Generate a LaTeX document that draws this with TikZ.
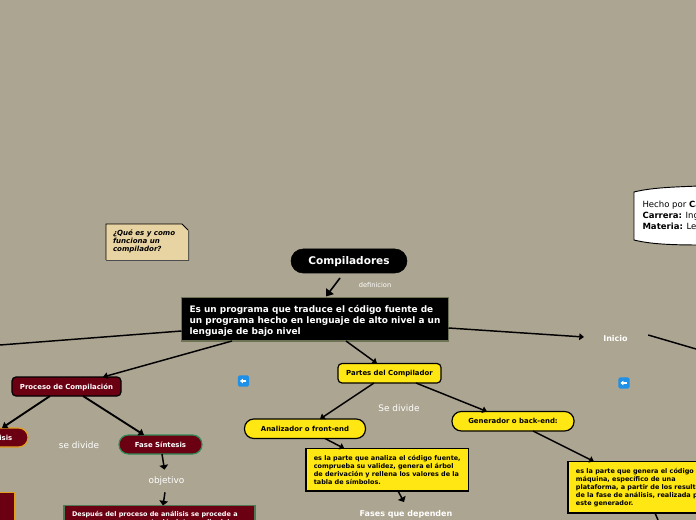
\documentclass[tikz,border=0pt]{standalone}
\usepackage{fontspec}
\setmainfont{DejaVu Sans}
\usetikzlibrary{arrows.meta}
\definecolor{bg}{HTML}{ACA591}
\definecolor{ylw}{HTML}{FFE713}
\definecolor{wine}{HTML}{6B0013}
\definecolor{sand}{HTML}{E8D3A3}
\definecolor{olive}{HTML}{6E7355}
\definecolor{grn}{HTML}{2E8B57}
\definecolor{grn2}{HTML}{4F7A55}
\definecolor{org}{HTML}{E0A020}
\definecolor{iconb}{HTML}{1E90E8}
\newcommand{\sz}[2]{\fontsize{#1}{#2}\selectfont}
\tikzset{
 x=0.75pt,y=-0.75pt,
 conn/.style={line width=1.1pt,-{Triangle[width=5pt,length=3.5pt]}},
 strongconn/.style={line width=1.4pt,-{Triangle[width=5.5pt,length=4pt]}},
 shortconn/.style={line width=1.1pt,-{Triangle[width=6.5pt,length=3.5pt]}},
 bigconn/.style={line width=1.2pt,-{Triangle[width=7pt,length=5pt]}},
 plain/.style={line width=1.1pt},
 wh/.style 2 args={minimum width=#1*.75pt,minimum height=#2*.75pt,inner sep=0pt,outer sep=0pt},
 pillbox/.style={draw=black,line width=.9pt,rounded corners=7pt,font=\bfseries\sz{5.2}{6},text height=5pt,text depth=1.2pt},
 ypill/.style={pillbox,fill=ylw,text=black},
 wpill/.style={pillbox,fill=wine,text=white},
 para/.style={draw=black,fill=ylw,line width=.9pt,align=left,font=\bfseries\sz{4.85}{6},text=black},
 lab/.style={inner sep=0pt,outer sep=0pt,text=white,align=center},
 icon/.style={fill=iconb,rounded corners=1.2pt,minimum size=8.5pt,inner sep=0pt,outer sep=0pt},
}
\begin{document}
\begin{tikzpicture}
\useasboundingbox (0,0) rectangle (696,520);
\clip (0,0) rectangle (696,520);
\fill[bg] (0,0) rectangle (696,520);

% note
\fill[black!70] (106,224) -- (182,224) -- (189,231) -- (189,261) -- (106,261) -- cycle;
\fill[sand] (106,224) -- (182,224) -- (188,230) -- (188,260) -- (106,260) -- cycle;
\draw[black,line width=.6pt] (106,260) -- (106,224) -- (182,224) -- (188,230);
\node[lab,anchor=north west,text=black,align=left,font=\bfseries\itshape\sz{5.3}{6.2}] (note) at (113,229.5) {¿Qué es y como\\funciona un\\compilador?};

% author box
\draw[draw=black,fill=white,line width=.7pt] (634,192) .. controls (650,188) and (670,187) .. (700,186) -- (700,245) .. controls (670,245) and (650,244) .. (634,240) -- cycle;
\node[lab,anchor=north west,align=left,font=\sz{6.4}{8.2},text=black] (author) at (642.5,201.5) {Hecho por \textbf{Carlos}\\\textbf{Carrera:} Ingeniería\\\textbf{Materia:} Lenguajes};

% main nodes
\node[wh={116}{24},fill=black,draw=black,rounded corners=9pt,text=white,font=\bfseries\sz{7.9}{9}] (comp) at (349,261) {\rule{0pt}{7.5pt}Compiladores};
\node[lab,font=\sz{5}{6}] (defi) at (375,285) {definicion};
\node[wh={267}{43.5},fill=black,draw=olive,line width=1pt,text=white,align=left,font=\bfseries\sz{6.7}{8.25}] (main) at (315,319.25) {\rule{0pt}{8pt}Es un programa que traduce el código fuente de\\un programa hecho en lenguaje de alto nivel a un\\lenguaje de bajo nivel};
\node[lab,font=\bfseries\sz{6}{7}] (inicio) at (615.5,339) {Inicio};
\coordinate (leftend) at (0,345);
\coordinate (rightend) at (696,349);

\node[wh={109}{19},wpill,rounded corners=3pt] (pdc) at (66.5,386.5) {Proceso de Compilación};
\node[wh={82}{19},wpill,draw=org] (fa) at (-13,437.5) {Fase Análisis};
\node[wh={83}{19},wpill,draw=grn] (fs) at (160.5,444.5) {Fase Síntesis};
\node[lab,font=\sz{6.7}{8}] (sed1) at (79,445) {se divide};
\node[lab,font=\sz{6.7}{8}] (obj) at (166.5,481) {objetivo};
\node[wh={40}{40},fill=wine,draw=org,line width=.9pt] (fabox) at (-5,512.5) {};
\node[wh={191}{40},fill=wine,draw=grn2,line width=.9pt,anchor=north west] (desp) at (64,505.5) {};
\node[lab,anchor=north west,align=left,font=\bfseries\sz{4.85}{6}] (despt) at (72,511) {Después del proceso de análisis se procede a\\generar una representación intermedia del};

\node[wh={103}{19.5},ypill,rounded corners=3pt] (parts) at (389.5,373.25) {Partes del Compilador};
\node[wh={121}{19.5},ypill] (af) at (305,428.75) {Analizador o front-end};
\node[wh={122}{19.5},ypill] (gb) at (513,421.25) {Generador o back-end:};
\node[lab,font=\sz{6.7}{8}] (sed2) at (399,408) {Se divide};

\node[wh={162.5}{42.5},para] (anat) at (387.25,469.75) {es la parte que analiza el código fuente,\\comprueba su validez, genera el árbol\\de derivación y rellena los valores de la\\tabla de símbolos.};
\node[wh={153}{51.5},para,anchor=north west] (gen) at (568,461.5) {es la parte que genera el código\\máquina, específico de una\\plataforma, a partir de los resultados\\de la fase de análisis, realizada por\\este generador.};
\node[lab,anchor=north,font=\bfseries\sz{6}{8}] (fases) at (406,510) {Fases que dependen\\del lenguaje fuente};
\coordinate (genend) at (658,520);

% connectors
\draw[bigconn] ([xshift=-9*.75pt,yshift=-5*.75pt]comp.south) -- ([xshift=11*.75pt,yshift=1*.75pt]main.north);
\draw[plain] (main.west |- 0,331) -- (leftend);
\draw[conn] (main.east |- 0,328) -- (584,337);
\draw[plain] ([xshift=20.5*.75pt,yshift=4*.75pt]inicio.east) -- (rightend);
\draw[conn] ([xshift=-83*.75pt]main.south) -- ([xshift=36.5*.75pt]pdc.north);
\draw[conn] ([xshift=31*.75pt]main.south) -- ([xshift=-12.5*.75pt]parts.north);
\draw[strongconn] ([xshift=-16.5*.75pt]pdc.south) -- ([xshift=15*.75pt]fa.north);
\draw[strongconn] ([xshift=16.5*.75pt]pdc.south) -- ([xshift=-16.5*.75pt]fs.north);
\draw[shortconn] ([xshift=1.5*.75pt]fs.south) -- ([xshift=-2*.75pt,yshift=7*.75pt]obj.north);
\draw[shortconn] ([xshift=-1.5*.75pt,yshift=-7*.75pt]obj.south) -- ([xshift=3.5*.75pt]desp.north);
\draw[conn] ([xshift=-15.5*.75pt]parts.south) -- ([xshift=15*.75pt]af.north);
\draw[conn] ([xshift=26.5*.75pt]parts.south) -- ([xshift=-26*.75pt]gb.north);
\draw[conn] ([xshift=20*.75pt]af.south) -- ([xshift=-43*.75pt]anat.north);
\draw[shortconn] ([xshift=10.75*.75pt]anat.south) -- ([xshift=-2*.75pt,yshift=8*.75pt]fases.north);
\draw[conn] ([xshift=20*.75pt]gb.south) -- ([xshift=-50.5*.75pt]gen.north);
\draw[plain] ([xshift=10.5*.75pt]gen.south) -- (genend);

% icons
\node[icon] (i1) at (243.5,381) {};
\node[icon] (i2) at (624,383) {};
\foreach \n in {i1,i2}{
 \draw[white,line width=.9pt,-{Triangle[width=3.5pt,length=2.2pt]}] ([xshift=2.2pt]\n.center) -- ([xshift=-2.6pt]\n.center);
}
\end{tikzpicture}
\end{document}
